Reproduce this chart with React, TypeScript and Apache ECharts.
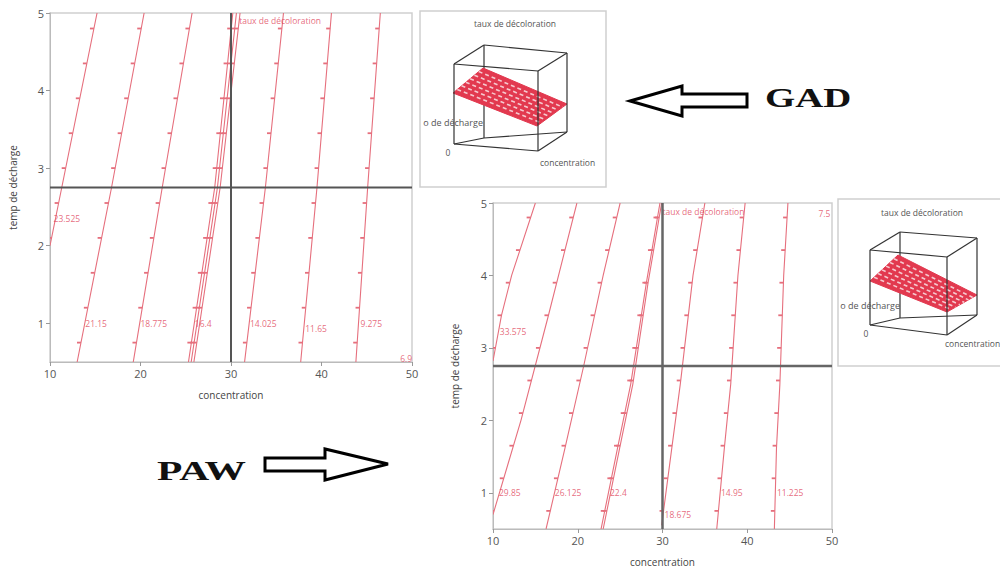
import React, { useEffect, useRef } from "react";
import * as echarts from "echarts";

// ---------- data ----------
const xTicks = [10, 20, 30, 40, 50];
const yTicks = [1, 2, 3, 4, 5];
const crossX = 30;
const crossY = 2.75;
const xName = "concentration";
const yName = "temp de décharge";
const responseName = "taux de décoloration";

// GAD contour levels and label anchors [x, y, label]
const gadLabels: [number, number, string][] = [
  [10.4, 2.35, "23.525"],
  [13.9, 1.0, "21.15"],
  [20.0, 1.0, "18.775"],
  [26.0, 1.0, "16.4"],
  [32.1, 1.0, "14.025"],
  [38.2, 0.93, "11.65"],
  [44.3, 1.0, "9.275"],
  [48.7, 0.55, "6.9"],
  [30.9, 4.9, responseName],
];
const gadContours: number[][][] = [
  [[10, 2.0], [11.3, 2.75], [15.2, 5]],
  [[13.0, 0.5], [16.8, 2.75], [20.4, 5]],
  [[19.2, 0.5], [22.4, 2.75], [25.7, 5]],
  [[25.3, 0.5], [28.2, 2.75], [30.2, 5]],
  [[25.6, 0.5], [28.5, 2.75], [30.6, 5]],
  [[25.9, 0.5], [28.8, 2.75], [31.0, 5]],
  [[31.5, 0.5], [33.8, 2.75], [35.8, 5]],
  [[37.7, 0.5], [39.5, 2.75], [41.1, 5]],
  [[43.8, 0.5], [45.1, 2.75], [46.5, 5]],
];

// PAW contour levels and label anchors
const pawLabels: [number, number, string][] = [
  [10.8, 3.22, "33.575"],
  [10.7, 1.0, "29.85"],
  [17.3, 1.0, "26.125"],
  [23.8, 1.0, "22.4"],
  [30.25, 0.7, "18.675"],
  [36.9, 1.0, "14.95"],
  [43.5, 1.0, "11.225"],
  [48.4, 4.86, "7.5"],
  [30.0, 4.88, responseName],
];
const pawContours: number[][][] = [
  [[10, 2.82], [11.0, 3.45], [12.2, 4.0], [15.0, 5]],
  [[10, 0.7], [13.3, 2.0], [16.5, 3.43], [19.9, 5]],
  [[16.26, 0.5], [18.5, 1.62], [20.7, 2.75], [23.0, 4.0], [25.0, 5]],
  [[22.75, 0.5], [24.7, 1.62], [26.25, 2.5], [28.1, 3.9], [29.7, 5]],
  [[23.0, 0.5], [24.95, 1.62], [26.5, 2.5], [28.3, 3.9], [29.9, 5]],
  [[29.9, 0.55], [31.1, 1.62], [32.1, 2.5], [33.6, 4.0], [35.0, 5]],
  [[36.4, 0.5], [37.3, 1.62], [38.05, 2.5], [38.9, 4.0], [39.75, 5]],
  [[43.2, 0.5], [43.45, 1.62], [43.85, 2.5], [44.3, 4.0], [44.8, 5]],
];

// positions (in y units) of the small direction ticks along each contour
const tickYs = [0.75, 1.2, 1.65, 2.1, 2.55, 3.0, 3.45, 3.9, 4.35, 4.8];

const RED = "#e66f7d";
const LABEL_RED = "#e0465c";
const FONT = "'Open Sans', 'Noto Sans', sans-serif";

function contourSeries(lines: number[][][], idx: number) {
  return {
    type: "custom",
    xAxisIndex: idx,
    yAxisIndex: idx,
    clip: true,
    silent: true,
    data: lines.map((pts, i) => [pts[0][0], pts[0][1], i]),
    renderItem: (params: any, api: any) => {
      const pts = lines[params.dataIndex].map((p) => api.coord(p));
      const children: any[] = [
        {
          type: "polyline",
          shape: { points: pts },
          style: { stroke: RED, lineWidth: 1.1, fill: "none" },
        },
      ];
      for (const ty of tickYs) {
        const py = api.coord([20, ty])[1];
        for (let k = 0; k < pts.length - 1; k++) {
          const a = pts[k];
          const b = pts[k + 1];
          if ((py <= a[1] && py >= b[1]) || (py >= a[1] && py <= b[1])) {
            const t = (py - a[1]) / (b[1] - a[1] || 1);
            const px = a[0] + t * (b[0] - a[0]);
            children.push({
              type: "line",
              shape: { x1: px - 4, y1: py, x2: px, y2: py },
              style: { stroke: RED, lineWidth: 1.8 },
            });
            break;
          }
        }
      }
      return { type: "group", children };
    },
  };
}

function labelSeries(labels: [number, number, string][], idx: number) {
  return {
    type: "scatter",
    xAxisIndex: idx,
    yAxisIndex: idx,
    symbolSize: 0,
    silent: true,
    data: labels.map((l) => [l[0], l[1], l[2]]),
    label: {
      show: true,
      position: "right",
      distance: 0,
      color: LABEL_RED,
      fontSize: 8.5,
      fontFamily: FONT,
      formatter: (p: any) => p.value[2],
    },
  };
}

function crossSeries(idx: number, color: string, width: number) {
  return [
    {
      type: "line",
      xAxisIndex: idx,
      yAxisIndex: idx,
      symbol: "none",
      silent: true,
      lineStyle: { color, width },
      data: [
        [xTicks[0], crossY],
        [xTicks[xTicks.length - 1], crossY],
      ],
    },
    {
      type: "line",
      xAxisIndex: idx,
      yAxisIndex: idx,
      symbol: "none",
      silent: true,
      lineStyle: { color, width },
      data: [
        [crossX, 0.5],
        [crossX, 5],
      ],
    },
  ];
}

function xAxis(idx: number) {
  return {
    gridIndex: idx,
    type: "value",
    min: 10,
    max: 50,
    interval: 10,
    name: xName,
    nameLocation: "middle",
    nameGap: 28,
    nameTextStyle: { color: "#444", fontSize: 10, fontFamily: FONT },
    axisLine: { show: true, lineStyle: { color: "#bbb", width: 1 } },
    axisTick: { show: true, length: 4, lineStyle: { color: "#999" } },
    axisLabel: { color: "#555", fontSize: 11, margin: 6, fontFamily: FONT },
    splitLine: { show: false },
  };
}

function yAxis(idx: number, gap: number) {
  return {
    gridIndex: idx,
    type: "value",
    min: 0.5,
    max: 5,
    name: yName,
    nameLocation: "middle",
    nameGap: gap,
    nameTextStyle: { color: "#444", fontSize: 10, fontFamily: FONT },
    axisLine: { show: true, lineStyle: { color: "#bbb", width: 1 } },
    axisTick: { show: true, length: 4, lineStyle: { color: "#999" }, customValues: yTicks },
    axisLabel: { color: "#555", fontSize: 11, margin: 6, fontFamily: FONT, customValues: yTicks },
    splitLine: { show: false },
  };
}

type Pt = [number, number];
function inset(
  frame: { x: number; y: number; w: number; h: number },
  titlePos: Pt,
  cube: { FTL: Pt; FTR: Pt; FBL: Pt; FBR: Pt; BTL: Pt; BTR: Pt; BBL: Pt; BBR: Pt },
  surf: [Pt, Pt, Pt, Pt],
  yLab: Pt,
  zeroLab: Pt,
  xLab: Pt
) {
  const els: any[] = [];
  els.push({
    type: "rect",
    shape: { x: frame.x, y: frame.y, width: frame.w, height: frame.h },
    style: { fill: "#fff", stroke: "#cfcfcf", lineWidth: 1.5 },
  });
  els.push({
    type: "text",
    x: titlePos[0],
    y: titlePos[1],
    style: { text: responseName, fill: "#555", fontSize: 8.5, fontFamily: FONT, align: "center", verticalAlign: "middle" },
  });
  const edge = (a: Pt, b: Pt) => ({
    type: "line",
    shape: { x1: a[0], y1: a[1], x2: b[0], y2: b[1] },
    style: { stroke: "#333", lineWidth: 1.2 },
  });
  const c = cube;
  // back edges
  [edge(c.BTL, c.BBL), edge(c.BBL, c.BBR), edge(c.BBL, c.FBL)].forEach((e) => els.push(e));
  // surface
  const [A, B, C, D] = surf;
  els.push({
    type: "polygon",
    shape: { points: [A, B, C, D] },
    style: { fill: "#e2394f", stroke: "#e2394f", lineWidth: 1 },
  });
  const n = 7;
  for (let i = 1; i < n; i++) {
    const t = i / n;
    const p: Pt = [A[0] + (B[0] - A[0]) * t, A[1] + (B[1] - A[1]) * t];
    const q: Pt = [D[0] + (C[0] - D[0]) * t, D[1] + (C[1] - D[1]) * t];
    els.push({
      type: "line",
      shape: { x1: p[0], y1: p[1], x2: q[0], y2: q[1] },
      style: { stroke: "#f6c9cf", lineWidth: 1.6, lineDash: [4, 3] },
    });
  }
  // front / visible edges
  [
    edge(c.FTL, c.FTR),
    edge(c.FTR, c.FBR),
    edge(c.FBR, c.FBL),
    edge(c.FBL, c.FTL),
    edge(c.FTL, c.BTL),
    edge(c.BTL, c.BTR),
    edge(c.BTR, c.FTR),
    edge(c.BTR, c.BBR),
    edge(c.BBR, c.FBR),
  ].forEach((e) => els.push(e));
  els.push({
    type: "text",
    x: yLab[0],
    y: yLab[1],
    style: { text: "o de décharge", fill: "#555", fontSize: 9, fontFamily: FONT, align: "right", verticalAlign: "middle" },
  });
  els.push({
    type: "text",
    x: zeroLab[0],
    y: zeroLab[1],
    style: { text: "0", fill: "#555", fontSize: 8.5, fontFamily: FONT, align: "center", verticalAlign: "middle" },
  });
  els.push({
    type: "text",
    x: xLab[0],
    y: xLab[1],
    style: { text: xName, fill: "#555", fontSize: 8.5, fontFamily: FONT, align: "left", verticalAlign: "middle" },
  });
  return els;
}

export default function App() {
  const ref = useRef<HTMLDivElement>(null);
  useEffect(() => {
    document.body.style.margin = "0";
    if (!ref.current) return;
    const chart = echarts.init(ref.current, undefined, { renderer: "svg" });
    const graphics: any[] = [
      ...inset(
        { x: 420, y: 11, w: 186, h: 176 },
        [515, 23],
        {
          FTL: [454, 64], FTR: [538, 71], FBL: [454, 144], FBR: [538, 151],
          BTL: [484, 45], BTR: [567, 53], BBL: [484, 138], BBR: [567, 132],
        },
        [[453, 93], [483, 68], [567, 104], [537, 126]],
        [483, 122],
        [448, 152],
        [540, 162]
      ),
      ...inset(
        { x: 838, y: 199, w: 170, h: 167 },
        [922, 212],
        {
          FTL: [870, 250], FTR: [947, 257], FBL: [870, 325], FBR: [947, 335],
          BTL: [900, 232], BTR: [977, 238], BBL: [900, 318], BBR: [977, 315],
        },
        [[870, 281], [898, 255], [977, 295], [947, 312]],
        [900, 305],
        [866, 333],
        [945, 343]
      ),
      {
        type: "polygon",
        shape: { points: [[630, 101], [682, 86], [682, 94], [747, 94], [747, 107], [682, 107], [682, 116]] },
        style: { fill: "#fff", stroke: "#000", lineWidth: 3, lineJoin: "miter" },
      },
      {
        type: "text",
        x: 765,
        y: 98,
        scaleX: 1.44,
        style: { text: "GAD", fill: "#111", font: "bold 27px 'Liberation Serif', serif", verticalAlign: "middle" },
      },
      {
        type: "polygon",
        shape: { points: [[265, 458], [325, 458], [325, 449], [388, 464], [325, 480], [325, 471], [265, 471]] },
        style: { fill: "#fff", stroke: "#000", lineWidth: 3, lineJoin: "miter" },
      },
      {
        type: "text",
        x: 157,
        y: 470,
        scaleX: 1.48,
        style: { text: "PAW", fill: "#111", font: "bold 28px 'Liberation Serif', serif", verticalAlign: "middle" },
      },
    ];
    chart.setOption({
      animation: false,
      backgroundColor: "#fff",
      grid: [
        { left: 50, top: 13, width: 362, height: 349, show: true, borderColor: "#cfcfcf", borderWidth: 1.5, backgroundColor: "#fff" },
        { left: 493, top: 203, width: 339, height: 326, show: true, borderColor: "#cfcfcf", borderWidth: 1.5, backgroundColor: "#fff" },
      ],
      xAxis: [xAxis(0), xAxis(1)],
      yAxis: [yAxis(0, 32), yAxis(1, 33)],
      series: [
        contourSeries(gadContours, 0),
        ...crossSeries(0, "#555", 2),
        labelSeries(gadLabels, 0),
        contourSeries(pawContours, 1),
        ...crossSeries(1, "#666", 2.5),
        labelSeries(pawLabels, 1),
      ],
      graphic: graphics,
    });
    return () => chart.dispose();
  }, []);
  return <div ref={ref} style={{ width: 1000, height: 572 }} />;
}
